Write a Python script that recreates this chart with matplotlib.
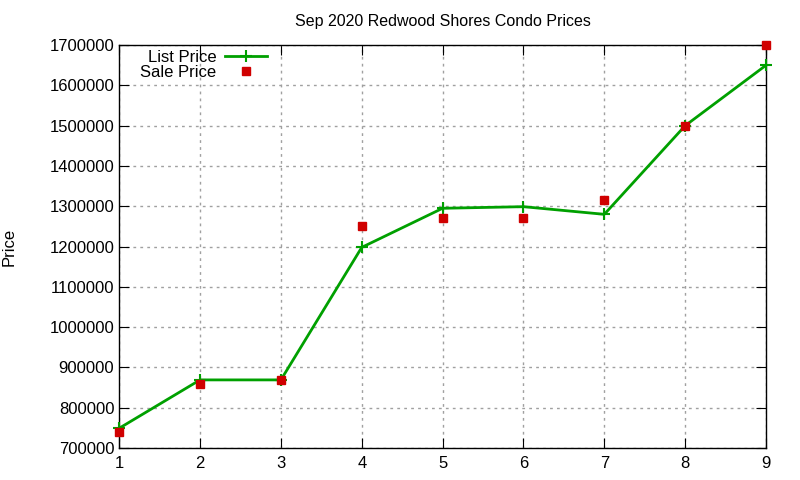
import matplotlib
matplotlib.use("Agg")
import matplotlib.pyplot as plt

x = [1, 2, 3, 4, 5, 6, 7, 8, 9]
list_price = [749000, 869000, 869000, 1198000, 1295000, 1299000, 1280000, 1500000, 1650000]
sale_price = [740000, 860000, 868000, 1250000, 1270000, 1270000, 1315000, 1500000, 1700000]
yticks = list(range(700000, 1700001, 100000))

plt.rcParams['font.family'] = ['Liberation Sans', 'DejaVu Sans']
fig = plt.figure(figsize=(8, 4.8), dpi=100)
ax = fig.add_axes([0.149, 0.0667, 0.8085, 0.8393])

ax.plot(x, list_price, color='#00a000', lw=2, marker='+', ms=9, mew=1.5, label='List Price', clip_on=False, zorder=3)
ax.plot(x, sale_price, ls='none', marker='s', color='#d00000', ms=6.3, label='Sale Price', clip_on=False, zorder=4)

ax.set_xlim(1, 9)
ax.set_ylim(700000, 1700000)
ax.set_xticks(x)
ax.set_yticks(yticks)
ax.set_yticklabels([str(v) for v in yticks])
ax.tick_params(direction='in', top=True, right=True, labelsize=12, length=7)
ax.tick_params(axis='x', pad=6)
ax.grid(True, color='#a0a0a0', ls=(0, (2, 3)), lw=1)
for s in ax.spines.values():
    s.set_linewidth(1)
ax.set_title('Sep 2020 Redwood Shores Condo Prices', fontsize=11.5, pad=14)
ax.set_ylabel('Price', fontsize=12, labelpad=24)
leg = ax.legend(loc='upper right', bbox_to_anchor=(0.2287, 0.988), frameon=False, markerfirst=False,
                fontsize=12, handlelength=2.5, labelspacing=0.0, borderaxespad=0.0, borderpad=0.0,
                handletextpad=0.54)
fig.savefig('out.png', dpi=100)
